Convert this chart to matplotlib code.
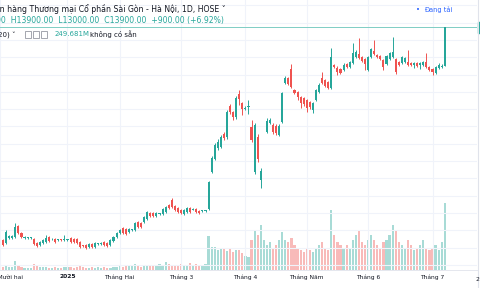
import numpy as np
import matplotlib.pyplot as plt
from matplotlib.patches import Rectangle

# SHB daily candles, 03/12/2024 -> 07/07/2025 (VND)
opens = [
    8980, 8900, 9030, 9030, 9050, 9300, 9140, 9030, 9020, 9020, 9000, 8900, 8860, 8900, 8930, 9050, 8990, 9000, 8970, 8980, 8970,
    8970, 9020, 9000, 9000, 8930, 8840, 8860, 8810, 8880, 8810, 8880, 8890, 8930, 8900, 8860, 8950, 9050,
    9140, 9250, 9230, 9160, 9210, 9210, 9390, 9370, 9390, 9460, 9600, 9600, 9530, 9580, 9580, 9620, 9780, 9900, 9760, 9720,
    9670, 9580, 9620, 9720, 9680, 9690, 9650, 9640, 9650, 9690, 10550, 10850, 11100, 11130, 11430, 11360, 12070, 11940, 11820, 12350, 12140,
    12010, 12060, 11590, 10550, 11360, 10360, 11300, 11470, 11680, 11630, 11610, 11400, 11700, 12610, 12720, 12930, 12440, 12400, 12280, 12260,
    12210, 12170, 11980, 12210, 12400, 12720, 12670, 12630, 12490, 13020, 12950, 12930, 12910, 13040, 12980, 13070, 13210, 13280, 13210, 13160,
    12910, 13210, 13340, 13250, 13230, 13140, 13040, 13160, 13210, 13160, 13090, 13070, 13090, 13090, 13070, 13020, 13070, 13020, 13020, 13090, 12980,
    12930, 12840, 12950, 12980, 13000,
]
highs = [
    9000, 9200, 9090, 9090, 9370, 9330, 9160, 9070, 9050, 9050, 9020, 8920, 8950, 9000, 9090, 9070, 9020, 9020, 9000, 9000, 9090,
    9000, 9040, 9020, 9020, 8950, 8860, 8880, 8900, 8900, 8920, 8910, 8930, 8950, 8920, 9000, 9070, 9160,
    9230, 9270, 9250, 9250, 9240, 9390, 9410, 9390, 9530, 9640, 9620, 9620, 9620, 9610, 9710, 9760, 9800, 9950, 9780, 9740,
    9690, 9690, 9740, 9740, 9710, 9710, 9670, 9670, 9680, 10340, 10920, 11220, 11310, 11400, 11470, 11980, 12120, 11960, 12300, 12440, 12170,
    12070, 12210, 11750, 11680, 11430, 10640, 11300, 11800, 11800, 11680, 11650, 11650, 12400, 12770, 12750, 13040, 12470, 12420, 12300, 12280,
    12240, 12190, 12170, 12470, 12600, 12860, 12700, 12660, 13410, 13050, 12990, 12960, 13060, 13070, 13120, 13530, 13360, 13650, 13240, 13190,
    13240, 13420, 13600, 13280, 13260, 13170, 13260, 13330, 13670, 13190, 13110, 13240, 13210, 13370, 13090, 13090, 13090, 13090, 13110, 13300, 13000,
    12950, 13000, 13070, 13050, 13900,
]
lows = [
    8830, 8880, 9010, 9010, 9020, 9120, 9020, 9010, 9000, 9000, 8860, 8810, 8840, 8880, 8910, 8930, 8970, 8910, 8950, 8950, 8950,
    8950, 8910, 8910, 8880, 8790, 8810, 8770, 8790, 8790, 8790, 8860, 8870, 8840, 8820, 8840, 8930, 9030,
    9120, 9120, 9090, 9140, 9190, 9190, 9260, 9260, 9370, 9440, 9510, 9510, 9510, 9560, 9560, 9600, 9700, 9720, 9650, 9600,
    9580, 9560, 9600, 9600, 9660, 9600, 9580, 9620, 9630, 9670, 10520, 10820, 11060, 11100, 11290, 11310, 11890, 11750, 11770, 12100, 11870,
    11980, 11890, 11240, 10500, 10780, 10180, 11300, 11450, 11660, 11430, 11400, 11380, 11680, 12590, 12560, 12490, 12340, 12210, 12030, 12080,
    11940, 12000, 11910, 12190, 12380, 12580, 12510, 12460, 12470, 12950, 12790, 12810, 12880, 12950, 12950, 13040, 13180, 13160, 13090, 12910,
    12880, 13180, 13250, 13180, 13130, 12910, 13020, 13140, 13180, 12810, 13000, 13050, 13070, 13000, 13000, 12950, 12980, 12930, 13000, 12950, 12880,
    12790, 12820, 12930, 12960, 13000,
]
closes = [
    8860, 9160, 9060, 9070, 9280, 9140, 9050, 9050, 9030, 9030, 8880, 8840, 8930, 8980, 9020, 8950, 9000, 8930, 8980, 8970, 8980,
    8990, 8930, 8930, 8900, 8810, 8830, 8790, 8880, 8810, 8900, 8890, 8910, 8860, 8840, 8980, 9050, 9140,
    9210, 9140, 9110, 9230, 9220, 9370, 9280, 9280, 9510, 9620, 9530, 9530, 9600, 9590, 9690, 9740, 9720, 9740, 9670, 9620,
    9600, 9670, 9720, 9620, 9700, 9620, 9600, 9650, 9660, 10320, 10870, 11170, 11240, 11360, 11330, 11940, 11940, 11820, 12260, 12240, 12000,
    12030, 12080, 11290, 11630, 10850, 10570, 11300, 11730, 11750, 11470, 11450, 11610, 12370, 12720, 12580, 12510, 12370, 12280, 12140, 12120,
    12030, 12050, 12140, 12440, 12560, 12610, 12540, 12490, 13210, 12980, 12860, 12840, 13020, 12980, 13090, 13300, 13320, 13180, 13110, 13040,
    13210, 13390, 13280, 13210, 13160, 12980, 13230, 13300, 13320, 12860, 13020, 13210, 13180, 13020, 13020, 13070, 13000, 13070, 13090, 12980, 12910,
    12860, 12980, 13020, 13000, 13900,
]
# volume, millions of shares
volumes = [
    12, 15, 11, 12, 34, 20, 12, 9, 8, 9, 22, 15, 11, 12, 11, 9, 8, 11, 8, 9, 11,
    11, 12, 8, 11, 15, 11, 8, 9, 11, 8, 11, 9, 12, 9, 8, 11, 12,
    15, 12, 19, 15, 15, 22, 15, 12, 15, 19, 15, 15, 19, 22, 19, 30, 22, 19, 19, 15,
    22, 19, 15, 26, 19, 22, 19, 19, 22, 127, 86, 86, 75, 78, 82, 71, 78, 67, 75, 75, 63,
    52, 48, 112, 150, 130, 168, 112, 93, 104, 82, 93, 112, 142, 112, 104, 120, 93, 82, 75, 67,
    82, 75, 67, 82, 93, 104, 82, 75, 224, 130, 104, 93, 82, 93, 82, 112, 130, 150, 104, 93,
    112, 130, 112, 93, 82, 104, 112, 130, 168, 150, 104, 93, 82, 112, 93, 75, 82, 93, 112, 82, 75,
    82, 93, 75, 104, 249.681,
]
month_pos = [-1, 21, 38, 58, 79, 99, 119, 140]
month_labels = ['Tháng Mười hai', '2025', 'Tháng Hai', 'Tháng 3', 'Tháng 4', 'Tháng Năm', 'Tháng 6', 'Tháng 7']

UP = '#26a69a'
DOWN = '#ef5350'
TXT = '#131722'

o = np.array(opens, float)
h = np.array(highs, float)
l = np.array(lows, float)
c = np.array(closes, float)
idx = np.arange(len(o))
colors = np.where(c >= o, UP, DOWN)

fig = plt.figure(figsize=(4.8, 2.88), dpi=100)
rect = [0, 18 / 288, 477 / 480, 270 / 288]

# volume pane (behind) + grid
axv = fig.add_axes(rect)
axv.bar(idx, volumes, width=0.72, color=colors, alpha=0.4, linewidth=0)
axv.set_ylim(0, 1007)
axv.set_xlim(-0.1, 154.5)
axv.set_yticks([])
axv.set_xticks(month_pos)
axv.set_xticklabels(month_labels)
axv.tick_params(axis='x', length=0, pad=3, labelsize=4.3, colors=TXT)
axv.get_xticklabels()[1].set_fontweight('bold')
axv.grid(axis='x', color='#f0f3fa', lw=0.8)
for s in ['top', 'left', 'right']:
    axv.spines[s].set_visible(False)
axv.spines['bottom'].set_color('#e0e3eb')
axv.spines['bottom'].set_linewidth(0.6)

# price pane
ax = fig.add_axes(rect, sharex=axv)
ax.patch.set_visible(False)
ax.set_ylim(8282, 14524)
ax.set_yticks(np.arange(8400, 14500, 400))
ax.yaxis.grid(True, color='#f0f3fa', lw=0.8)
ax.set_axisbelow(True)
ax.tick_params(left=False, labelleft=False, bottom=False, labelbottom=False)
for s in ax.spines.values():
    s.set_visible(False)

ax.vlines(idx, l, h, colors=colors, lw=0.7, zorder=3)
body = np.maximum(np.abs(c - o), 20)
ax.bar(idx, body, bottom=np.minimum(o, c), width=0.68, color=colors, linewidth=0, zorder=4)
ax.axhline(closes[-1], color='#7fcdc4', lw=0.7, zorder=2)

# right price scale edge
fig.add_artist(plt.Line2D([477.5 / 480] * 2, [0, 1], color='#e0e3eb', lw=0.8))
fig.add_artist(Rectangle((478 / 480, 1 - 33 / 288), 3 / 480, 11 / 288, color=UP))
fig.text(475 / 480, 1 - 279.5 / 288, '2', fontsize=4.3, color=TXT, ha='left', va='center')

# legend header
fig.text(226 / 480, 1 - 9 / 288, 'Ngân hàng Thương mại Cổ phần Sài Gòn - Hà Nội, 1D, HOSE ˅',
         fontsize=5.6, color=TXT, ha='right', va='center')
fig.text(224 / 480, 1 - 21 / 288, 'O13000.00  H13900.00  L13000.00  C13900.00  +900.00 (+6.92%)',
         fontsize=5.6, color=UP, ha='right', va='center')
fig.text(15 / 480, 1 - 34 / 288, 'Khối lượng (20) ˅', fontsize=5, color=TXT, ha='right', va='center')
for k in range(3):
    fig.add_artist(Rectangle(((25 + 8 * k) / 480, 1 - 37.5 / 288), 6 / 480, 6 / 288,
                             fill=False, ec='#9598a1', lw=0.6))
fig.text(55 / 480, 1 - 34 / 288, '249.681M', fontsize=5, color=UP, ha='left', va='center')
fig.text(90 / 480, 1 - 34 / 288, 'không có sẵn', fontsize=5, color=TXT, ha='left', va='center')
fig.text(424 / 480, 1 - 10 / 288, 'Đang tải', fontsize=4.8, color='#2962ff', ha='left', va='center')
fig.text(416 / 480, 1 - 10 / 288, '•', fontsize=5, color='#2962ff', ha='left', va='center')

fig.savefig('out.png', dpi=100)
